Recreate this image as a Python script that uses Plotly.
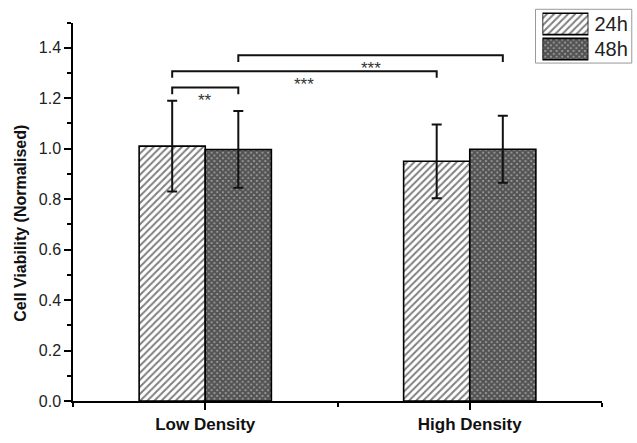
import plotly.graph_objects as go

# ---------------- data ----------------
categories = ["Low Density", "High Density"]
series_names = ["24h", "48h"]
values_24h = [1.01, 0.95]
errors_24h = [0.18, 0.146]
values_48h = [0.997, 0.998]
errors_48h = [0.152, 0.133]

# significance brackets: (series index, category index) pairs, height, label
sig_left = [(0, 0), (0, 0), (1, 0)]
sig_right = [(1, 0), (0, 1), (1, 1)]
sig_height = [1.242, 1.307, 1.370]
sig_label = ["**", "***", "***"]

y_ticks = [0.0, 0.2, 0.4, 0.6, 0.8, 1.0, 1.2, 1.4]

# ---------------- style ----------------
FONT = "Liberation Sans, Arial, sans-serif"
BARGAP = 0.5
W, H = 637, 443
L, R, T, B = 73, 31, 9, 28
plot_w = W - L - R
plot_h = H - T - B
axis_top_px = 23  # top of main y axis in pixels
main_dom_top = (H - B - axis_top_px) / plot_h

patterns = [
    dict(shape="/", size=5, solidity=0.4, fgcolor="black", bgcolor="white"),
    dict(shape="x", size=4, solidity=0.8, fgcolor="black", bgcolor="#a8a8a8"),
]
series_vals = [values_24h, values_48h]
series_errs = [errors_24h, errors_48h]

x_pos = list(range(len(categories)))
bar_w = (1 - BARGAP) / len(series_names)


def bar_center(series_idx, cat_idx):
    return x_pos[cat_idx] - (1 - BARGAP) / 2 + bar_w * (series_idx + 0.5)


fig = go.Figure()
for i, name in enumerate(series_names):
    fig.add_trace(go.Bar(
        x=x_pos, y=series_vals[i], name=name, showlegend=False,
        marker=dict(color="white", pattern=patterns[i],
                    line=dict(color="black", width=1.6)),
        error_y=dict(type="data", array=series_errs[i], visible=True,
                     color="#111", thickness=2, width=5),
        xaxis="x", yaxis="y",
    ))

# legend drawn as a tiny inset of horizontal bars (one bar per series)
fig.add_trace(go.Bar(
    y=series_names, x=[1] * len(series_names), orientation="h", width=0.85,
    showlegend=False, hoverinfo="skip",
    marker=dict(color="white",
                pattern=dict(shape=[p["shape"] for p in patterns],
                             size=[p["size"] for p in patterns],
                             solidity=[p["solidity"] for p in patterns],
                             fgcolor=[p["fgcolor"] for p in patterns],
                             bgcolor=[p["bgcolor"] for p in patterns]),
                line=dict(color="black", width=1.6)),
    xaxis="x2", yaxis="y2",
))

shapes = []
annotations = []
DROP = 0.026
for (la, lb), (ra, rb), h, lab in zip(sig_left, sig_right, sig_height, sig_label):
    x0 = bar_center(la, lb)
    x1 = bar_center(ra, rb)
    shapes.append(dict(type="path", xref="x", yref="y",
                       path=f"M {x0},{h - DROP} L {x0},{h} L {x1},{h} L {x1},{h - DROP}",
                       line=dict(color="#111", width=2)))
    annotations.append(dict(x=(x0 + x1) / 2, y=h, xref="x", yref="y", text=lab,
                            showarrow=False, yanchor="middle", yshift=-13,
                            font=dict(family=FONT, size=17, color="#333")))

# legend border
shapes.append(dict(type="rect", xref="paper", yref="paper",
                   x0=(539 - L) / plot_w, x1=(636 - L) / plot_w,
                   y0=(H - B - 65) / plot_h, y1=(H - B - 9.3) / plot_h,
                   line=dict(color="#999", width=1)))

# y axis title
annotations.append(dict(x=(20 - L) / plot_w, y=(H - B - 231) / plot_h,
                        xref="paper", yref="paper", text="<b>Cell Viability (Normalised)</b>",
                        textangle=-90, showarrow=False, xanchor="center", yanchor="middle",
                        font=dict(family=FONT, size=16, color="#111")))

fig.update_layout(
    width=W, height=H,
    margin=dict(l=L, r=R, t=T, b=B, pad=0),
    paper_bgcolor="white", plot_bgcolor="white",
    barmode="group", bargap=BARGAP, bargroupgap=0,
    showlegend=False,
    font=dict(family=FONT, color="#222"),
    shapes=shapes, annotations=annotations,
    xaxis=dict(
        domain=[0, 1], range=[-0.5, 1.5],
        tickmode="array", tickvals=x_pos,
        ticktext=[f"<b>{c}</b>" for c in categories],
        tickfont=dict(family=FONT, size=17, color="#111"),
        ticks="outside", ticklen=7, tickwidth=1.5, tickcolor="black",
        minor=dict(tickmode="linear", tick0=0.5, dtick=1, ticks="outside",
                   ticklen=4, tickwidth=1.5, tickcolor="black"),
        showline=True, linecolor="black", linewidth=1.5,
        showgrid=False, zeroline=False, anchor="y",
    ),
    yaxis=dict(
        domain=[0, main_dom_top], range=[0, 1.5],
        tickmode="array", tickvals=y_ticks, ticktext=[f"{v:.1f}" for v in y_ticks],
        tickfont=dict(family=FONT, size=16, color="#222"),
        ticks="outside", ticklen=7, tickwidth=1.5, tickcolor="black",
        minor=dict(tickmode="linear", tick0=0.1, dtick=0.2, ticks="outside",
                   ticklen=4, tickwidth=1.5, tickcolor="black"),
        showline=True, linecolor="black", linewidth=1.5,
        showgrid=False, zeroline=False, anchor="x",
    ),
    xaxis2=dict(domain=[(546 - L) / plot_w, (592.3 - L) / plot_w], range=[0, 1],
                visible=False, anchor="y2", fixedrange=True),
    yaxis2=dict(domain=[(H - B - 63.5) / plot_h, (H - B - 11.5) / plot_h],
                range=[-0.5, 1.5], type="category",
                categoryorder="array", categoryarray=series_names[::-1],
                side="right", anchor="x2", showline=False, showgrid=False,
                zeroline=False, ticks="", ticklabelstandoff=5,
                tickfont=dict(family=FONT, size=20, color="#222"), fixedrange=True),
)

fig.write_html("out.html")
